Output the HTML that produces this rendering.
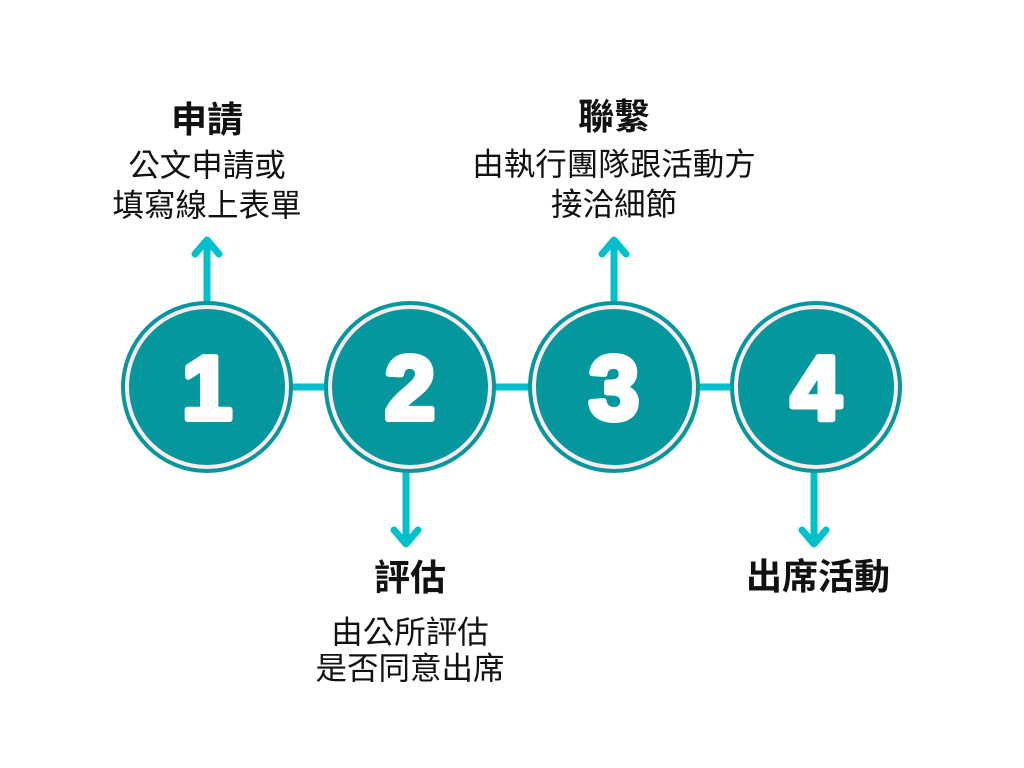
<!DOCTYPE html>
<html><head><meta charset="utf-8"><style>
body{margin:0;width:1024px;height:768px;background:#fff;overflow:hidden;position:relative;font-family:"Liberation Sans","Noto Sans CJK TC",sans-serif}
.t{position:absolute;transform:translateX(-50%);text-align:center;color:#111;white-space:nowrap}
.h{font-weight:bold;font-size:36px;line-height:40px}
.b{font-size:31.5px;line-height:40px}
</style></head><body>
<svg width="1024" height="768" style="position:absolute;left:0;top:0">
<g stroke="#00c1cb" stroke-width="7" fill="none" stroke-linecap="round" stroke-linejoin="round">
<line x1="207" y1="387" x2="816" y2="387"/>
<line x1="207" y1="300" x2="207" y2="242"/><polyline points="195,254 207,240 219,254"/>
<line x1="614" y1="300" x2="614" y2="242"/><polyline points="602,254 614,240 626,254"/>
<line x1="406" y1="470" x2="406" y2="542"/><polyline points="394,530 406,544 418,530"/>
<line x1="814" y1="470" x2="814" y2="542"/><polyline points="802,530 814,544 826,530"/>
</g>
<g font-family="Liberation Sans, sans-serif" font-weight="bold" font-size="90" fill="#fff" stroke="#fff" stroke-width="6" stroke-linejoin="round" text-anchor="middle">
<circle cx="207" cy="387" r="86" fill="#05979e" stroke="none"/><circle cx="207" cy="387" r="80" fill="none" stroke="#fbeceb" stroke-width="4"/><text x="207" y="419">1</text>
<circle cx="410" cy="387" r="86" fill="#05979e" stroke="none"/><circle cx="410" cy="387" r="80" fill="none" stroke="#fbeceb" stroke-width="4"/><text x="410" y="419">2</text>
<circle cx="614" cy="387" r="86" fill="#05979e" stroke="none"/><circle cx="614" cy="387" r="80" fill="none" stroke="#fbeceb" stroke-width="4"/><text x="614" y="419">3</text>
<circle cx="816" cy="387" r="86" fill="#05979e" stroke="none"/><circle cx="816" cy="387" r="80" fill="none" stroke="#fbeceb" stroke-width="4"/><text x="816" y="419">4</text>
</g>
</svg>
<div class="t h" style="left:207px;top:100px">申請</div>
<div class="t b" style="left:207px;top:145px">公文申請或<br>填寫線上表單</div>
<div class="t h" style="left:614px;top:97px">聯繫</div>
<div class="t b" style="left:614px;top:144px">由執行團隊跟活動方<br>接洽細節</div>
<div class="t h" style="left:410px;top:558px">評估</div>
<div class="t b" style="left:410px;top:614px;line-height:36px">由公所評估<br>是否同意出席</div>
<div class="t h" style="left:818px;top:557px">出席活動</div>
</body></html>
